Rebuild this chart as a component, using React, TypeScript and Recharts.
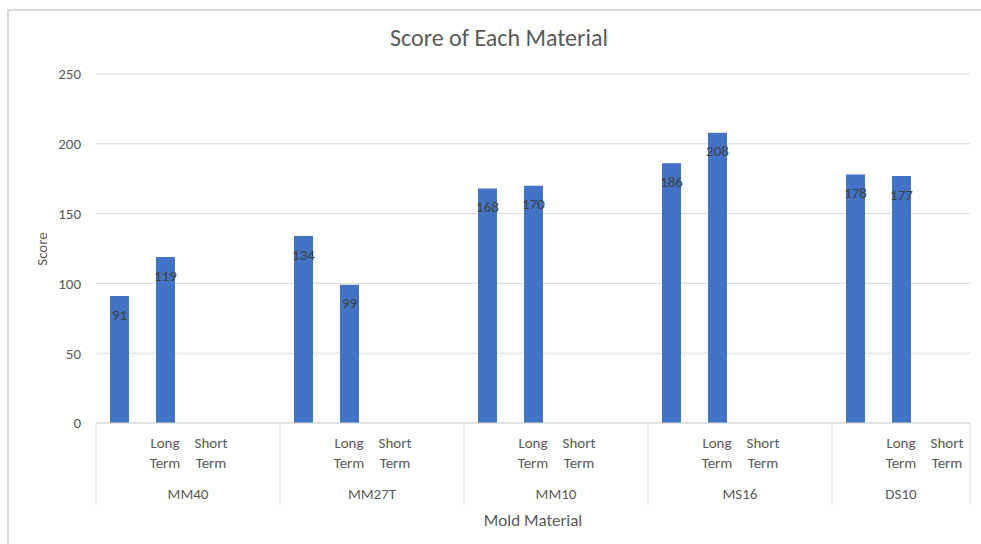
import { BarChart, Bar, XAxis, YAxis, CartesianGrid, LabelList } from "recharts";

const groups = ["MM40", "MM27T", "MM10", "MS16", "DS10"];
const subCategories = ["", "Long Term", "Short Term", ""];
const groupSizes = [4, 4, 4, 4, 3];
const firstScores = [91, 134, 168, 186, 178];
const longTermScores = [119, 99, 170, 208, 177];
const yTicks = [0, 50, 100, 150, 200, 250];

type Row = { key: string; group: string; sub: string; pos: number; size: number; score: number | null };

const rows: Row[] = [];
groups.forEach((g, gi) => {
  for (let i = 0; i < groupSizes[gi]; i++) {
    const score = i === 0 ? firstScores[gi] : i === 1 ? longTermScores[gi] : null;
    rows.push({ key: `${g}-${i}`, group: g, sub: subCategories[i], pos: i, size: groupSizes[gi], score });
  }
});

const FONT = "Carlito, Lato, 'Open Sans', sans-serif";
const TEXT = "#595959";
const LINE = "#d9d9d9";

const W = 981;
const H = 544;
const M = { top: 74, right: 11, bottom: 0, left: 0 };
const Y_AXIS_W = 96;
const X_AXIS_H = 121;
const BAND = (W - M.left - M.right - Y_AXIS_W) / rows.length;

function CategoryTick(props: any) {
  const { x, y, payload } = props;
  const row = rows[payload.index];
  if (!row) return null;
  const half = payload.offset || BAND / 2;
  const words = row.sub ? row.sub.split(" ") : [];
  const isLast = payload.index === rows.length - 1;
  return (
    <g>
      {words.map((w: string, i: number) => (
        <text key={i} x={x} y={y + 25 + i * 20} textAnchor="middle" fontSize={15} fill={TEXT} fontFamily={FONT}>
          {w}
        </text>
      ))}
      {row.pos === 0 && (
        <>
          <line x1={x - half} x2={x - half} y1={y} y2={y + 82} stroke={LINE} />
          <text x={x - half + row.size * half} y={y + 76} textAnchor="middle" fontSize={15} fill={TEXT} fontFamily={FONT}>
            {row.group}
          </text>
        </>
      )}
      {isLast && <line x1={x + half} x2={x + half} y1={y} y2={y + 82} stroke={LINE} />}
    </g>
  );
}

export default function App() {
  return (
    <div style={{ position: "fixed", left: 0, top: 0, width: W, height: H, background: "#fff", overflow: "hidden", fontFamily: FONT }}>
      <div style={{ position: "absolute", left: 7, top: 9, width: W, height: H, borderLeft: `2px solid ${LINE}`, borderTop: `2px solid ${LINE}` }} />
      <div style={{ position: "absolute", left: 0, width: 998, top: 22, textAlign: "center", fontSize: 24, color: TEXT, lineHeight: "32px" }}>
        Score of Each Material
      </div>
      <div style={{ position: "absolute", left: 42, top: 249, transform: "translate(-50%, -50%) rotate(-90deg)", fontSize: 15, color: TEXT, whiteSpace: "nowrap" }}>
        Score
      </div>
      <div style={{ position: "absolute", left: 533, top: 520, transform: "translate(-50%, -50%)", fontSize: 17, color: TEXT, whiteSpace: "nowrap" }}>
        Mold Material
      </div>
      <div style={{ position: "absolute", left: 0, top: 0 }}>
        <BarChart width={W} height={H} data={rows} margin={M} barCategoryGap={0}>
          <CartesianGrid vertical={false} stroke={LINE} />
          <YAxis
            width={Y_AXIS_W}
            domain={[0, 250]}
            ticks={yTicks}
            axisLine={false}
            tickLine={false}
            tickSize={0}
            tickMargin={15}
            tick={{ fontSize: 15, fill: TEXT, fontFamily: FONT }}
          />
          <XAxis
            dataKey="key"
            interval={0}
            height={X_AXIS_H}
            axisLine={{ stroke: LINE }}
            tickLine={false}
            tickSize={0}
            tickMargin={0}
            tick={<CategoryTick />}
          />
          <Bar dataKey="score" fill="#4472C4" barSize={19} isAnimationActive={false}>
            <LabelList
              dataKey="score"
              position="insideTop"
              offset={13}
              formatter={(v: any) => (v == null ? "" : v)}
              style={{ fontSize: 15, fill: "#404040", fontFamily: FONT }}
            />
          </Bar>
        </BarChart>
      </div>
    </div>
  );
}
